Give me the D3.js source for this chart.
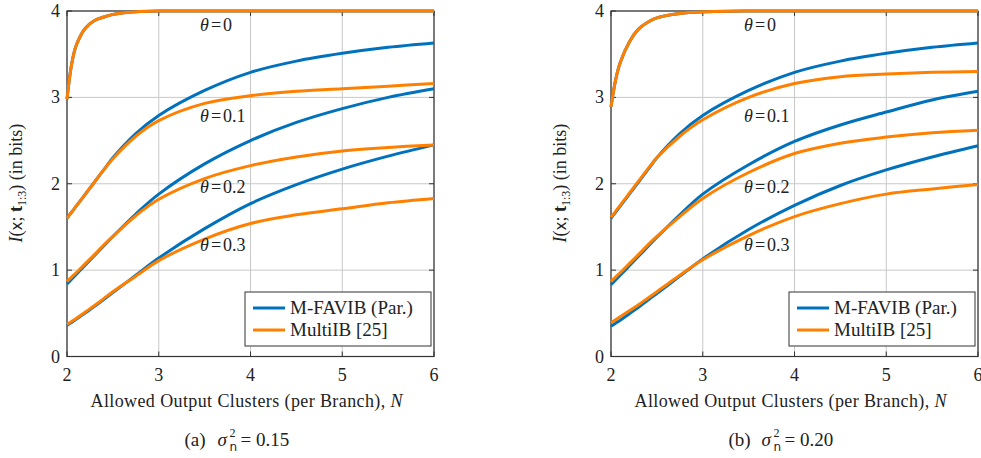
<!DOCTYPE html>
<html>
<head>
<meta charset="utf-8">
<script src="https://cdn.jsdelivr.net/npm/d3@7"></script>
<style>
  body { margin: 0; background: #fff; }
  svg text { fill: #222; }
</style>
</head>
<body>
<svg id="chart" width="981" height="458" font-family="Liberation Serif, Times New Roman, serif"></svg>
<script>
// sample points of N (allowed output clusters)
var N = [2, 2.05, 2.1, 2.2, 2.3, 2.4, 2.5, 2.75, 3, 3.5, 4, 4.5, 5, 5.5, 6];
var thetas = ["0", "0.1", "0.2", "0.3"];
var xTicks = [2, 3, 4, 5, 6];
var yTicks = [0, 1, 2, 3, 4];

// panel (a) sigma^2 = 0.15
var favibA = [
  [2.98, 3.38, 3.6, 3.8, 3.89, 3.93, 3.96, 3.99, 4, 4, 4, 4, 4, 4, 4],
  [1.60, 1.67, 1.74, 1.88, 2.02, 2.16, 2.30, 2.58, 2.79, 3.08, 3.29, 3.42, 3.51, 3.58, 3.63],
  [0.84, 0.895, 0.95, 1.06, 1.17, 1.28, 1.39, 1.65, 1.88, 2.23, 2.50, 2.71, 2.87, 3.00, 3.10],
  [0.36, 0.395, 0.43, 0.505, 0.58, 0.66, 0.74, 0.94, 1.14, 1.48, 1.77, 1.99, 2.17, 2.32, 2.45]
];
var multiA = [
  [2.98, 3.38, 3.6, 3.8, 3.89, 3.93, 3.96, 3.99, 4, 4, 4, 4, 4, 4, 4],
  [1.60, 1.67, 1.74, 1.88, 2.02, 2.16, 2.29, 2.55, 2.73, 2.93, 3.02, 3.07, 3.10, 3.13, 3.16],
  [0.87, 0.92, 0.97, 1.075, 1.18, 1.29, 1.39, 1.63, 1.82, 2.06, 2.21, 2.31, 2.38, 2.42, 2.45],
  [0.37, 0.405, 0.44, 0.515, 0.59, 0.67, 0.75, 0.93, 1.11, 1.36, 1.54, 1.64, 1.71, 1.78, 1.83]
];

// panel (b) sigma^2 = 0.20
var favibB = [
  [2.89, 3.2, 3.4, 3.64, 3.79, 3.87, 3.92, 3.97, 3.99, 4, 4, 4, 4, 4, 4],
  [1.60, 1.67, 1.74, 1.88, 2.02, 2.16, 2.30, 2.58, 2.79, 3.08, 3.29, 3.42, 3.51, 3.58, 3.63],
  [0.83, 0.885, 0.94, 1.05, 1.16, 1.27, 1.38, 1.64, 1.88, 2.22, 2.49, 2.68, 2.83, 2.97, 3.07],
  [0.35, 0.385, 0.42, 0.495, 0.57, 0.65, 0.73, 0.93, 1.13, 1.47, 1.75, 1.98, 2.16, 2.31, 2.44]
];
var multiB = [
  [2.89, 3.2, 3.4, 3.64, 3.79, 3.87, 3.92, 3.97, 3.99, 4, 4, 4, 4, 4, 4],
  [1.61, 1.68, 1.75, 1.89, 2.03, 2.17, 2.30, 2.55, 2.74, 3.00, 3.16, 3.24, 3.27, 3.29, 3.30],
  [0.87, 0.92, 0.97, 1.075, 1.18, 1.29, 1.39, 1.62, 1.83, 2.13, 2.35, 2.47, 2.54, 2.59, 2.62],
  [0.39, 0.425, 0.46, 0.53, 0.60, 0.675, 0.75, 0.94, 1.12, 1.40, 1.62, 1.77, 1.88, 1.94, 1.99]
];

var legendNames = ["M-FAVIB (Par.)", "MultiIB [25]"];
var blue = "#0072bd", orange = "#ff8000";

var svg = d3.select("#chart");

function panel(left, right, favib, multi, letter, sigma, labelX) {
  var x = d3.scaleLinear().domain([2, 6]).range([left, right]);
  var y = d3.scaleLinear().domain([0, 4]).range([356.5, 11]);
  var g = svg.append("g");

  // grid
  g.selectAll(".gx").data(xTicks).enter().append("line")
    .attr("x1", d => x(d)).attr("x2", d => x(d))
    .attr("y1", y(0)).attr("y2", y(4))
    .attr("stroke", "#c8c8c8").attr("stroke-width", 1);
  g.selectAll(".gy").data(yTicks).enter().append("line")
    .attr("y1", d => y(d)).attr("y2", d => y(d))
    .attr("x1", x(2)).attr("x2", x(6))
    .attr("stroke", "#c8c8c8").attr("stroke-width", 1);

  // frame
  g.append("rect").attr("x", x(2)).attr("y", y(4))
    .attr("width", x(6) - x(2)).attr("height", y(0) - y(4))
    .attr("fill", "none").attr("stroke", "#333").attr("stroke-width", 1.2);

  // inner ticks
  xTicks.forEach(function (t) {
    g.append("line").attr("x1", x(t)).attr("x2", x(t)).attr("y1", y(0)).attr("y2", y(0) - 5).attr("stroke", "#333");
    g.append("line").attr("x1", x(t)).attr("x2", x(t)).attr("y1", y(4)).attr("y2", y(4) + 5).attr("stroke", "#333");
  });
  yTicks.forEach(function (t) {
    g.append("line").attr("y1", y(t)).attr("y2", y(t)).attr("x1", x(2)).attr("x2", x(2) + 5).attr("stroke", "#333");
    g.append("line").attr("y1", y(t)).attr("y2", y(t)).attr("x1", x(6)).attr("x2", x(6) - 5).attr("stroke", "#333");
  });

  // tick labels
  g.selectAll(".tx").data(xTicks).enter().append("text")
    .attr("x", d => x(d)).attr("y", 381).attr("text-anchor", "middle")
    .attr("font-size", 18).text(d => d);
  g.selectAll(".ty").data(yTicks).enter().append("text")
    .attr("x", x(2) - 7).attr("y", d => y(d) + 6).attr("text-anchor", "end")
    .attr("font-size", 18).text(d => d);

  // curves
  var line = d3.line().x((d, i) => x(N[i])).y(d => y(d)).curve(d3.curveCatmullRom.alpha(0.5));
  favib.forEach(function (s) {
    g.append("path").attr("d", line(s)).attr("fill", "none")
      .attr("stroke", blue).attr("stroke-width", 3);
  });
  multi.forEach(function (s) {
    g.append("path").attr("d", line(s)).attr("fill", "none")
      .attr("stroke", orange).attr("stroke-width", 3);
  });

  // theta labels
  var thY = [25, 116, 187, 245];
  thetas.forEach(function (t, i) {
    var tx = g.append("text").attr("x", x(3.45)).attr("y", thY[i] + 6).attr("font-size", 18);
    tx.append("tspan").attr("font-style", "italic").text("θ");
    tx.append("tspan").attr("dx", 2).text("=");
    tx.append("tspan").attr("dx", 2).text(t);
  });

  // legend
  var lx = right - 189, ly = 292;
  g.append("rect").attr("x", lx).attr("y", ly).attr("width", 186).attr("height", 54)
    .attr("fill", "#fff").attr("stroke", "#333").attr("stroke-width", 1);
  legendNames.forEach(function (name, i) {
    var yy = ly + 16 + i * 22;
    g.append("line").attr("x1", lx + 8).attr("x2", lx + 40).attr("y1", yy).attr("y2", yy)
      .attr("stroke", i === 0 ? blue : orange).attr("stroke-width", 3);
    g.append("text").attr("x", lx + 45).attr("y", yy + 6).attr("font-size", 19).text(name);
  });

  // x label
  var xl = g.append("text").attr("x", (left + right) / 2 - 4).attr("y", 407)
    .attr("text-anchor", "middle").attr("font-size", 18)
    .attr("textLength", 312).attr("lengthAdjust", "spacing");
  xl.append("tspan").text("Allowed Output Clusters (per Branch), ");
  xl.append("tspan").attr("font-style", "italic").text("N");

  // y label
  var yl = g.append("text").attr("transform", "translate(" + labelX + ",183) rotate(-90)")
    .attr("text-anchor", "middle").attr("font-size", 18);
  yl.append("tspan").attr("font-style", "italic").text("I");
  yl.append("tspan").text("(");
  yl.append("tspan").attr("font-family", "DejaVu Sans").attr("font-size", 15).text("x");
  yl.append("tspan").text("; ");
  yl.append("tspan").attr("font-weight", "bold").text("t");
  yl.append("tspan").attr("font-size", 12).attr("dy", 4).text("1:3");
  yl.append("tspan").attr("dy", -4).text(") (in bits)");

  // caption: (a) sigma^2_n = value, with super/subscript as separate texts
  var cx = (left + right) / 2 - 66, cy = 446;
  g.append("text").attr("x", cx).attr("y", cy).attr("font-size", 19).text("(" + letter + ")");
  g.append("text").attr("x", cx + 33).attr("y", cy).attr("font-size", 19)
    .attr("font-style", "italic").text("σ");
  g.append("text").attr("x", cx + 45).attr("y", cy - 9).attr("font-size", 12).text("2");
  g.append("text").attr("x", cx + 45).attr("y", cy + 5).attr("font-size", 12)
    .attr("font-family", "DejaVu Sans").text("n");
  g.append("text").attr("x", cx + 56).attr("y", cy).attr("font-size", 19).text("= " + sigma);
}

panel(67, 434, favibA, multiA, "a", "0.15", 22);
panel(611, 978, favibB, multiB, "b", "0.20", 566);
</script>
</body>
</html>
